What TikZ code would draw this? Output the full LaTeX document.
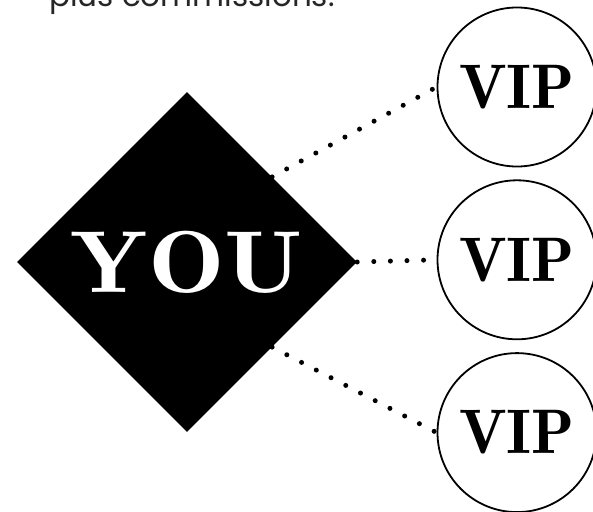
\documentclass[tikz,border=0pt]{standalone}
\usepackage{graphicx}
\usepackage{fontspec}
\newfontfamily\notefont{Poppins}
\usetikzlibrary{shapes.geometric,positioning}

\begin{document}
\begin{tikzpicture}[x=1pt,y=-1pt,node distance=12pt,
  you/.style={diamond,aspect=1,fill=black,text=white,inner sep=0pt,minimum width=340pt,minimum height=340pt,font=\fontsize{88}{88}\fontseries{b}\selectfont},
  vip/.style={circle,draw,line width=1.8pt,inner sep=0pt,minimum size=159pt,font=\fontsize{63}{63}\fontseries{b}\selectfont},
  link/.style={line width=5pt,line cap=round,dash pattern=on 0pt off 16.6pt}]
\useasboundingbox (0,0) rectangle (593,511);
\clip (0,0) rectangle (593,511);
\node[anchor=base west,text=black!85,inner sep=0pt,font=\notefont\fontsize{31}{31}\selectfont] (note) at (49,7) {plus commissions.};
\node[you] (you) at (187,262) {\scalebox{1.16}[1]{YOU}};
\node[vip] (v1) at (517,87) {VIP};
\node[vip,below=of v1] (v2) {VIP};
\node[vip,below=of v2] (v3) {VIP};
\foreach \x/\y in {north east/v1,east/v2,south east/v3}{\draw[link] (you.\x)--(\y.west);}
\end{tikzpicture}
\end{document}
